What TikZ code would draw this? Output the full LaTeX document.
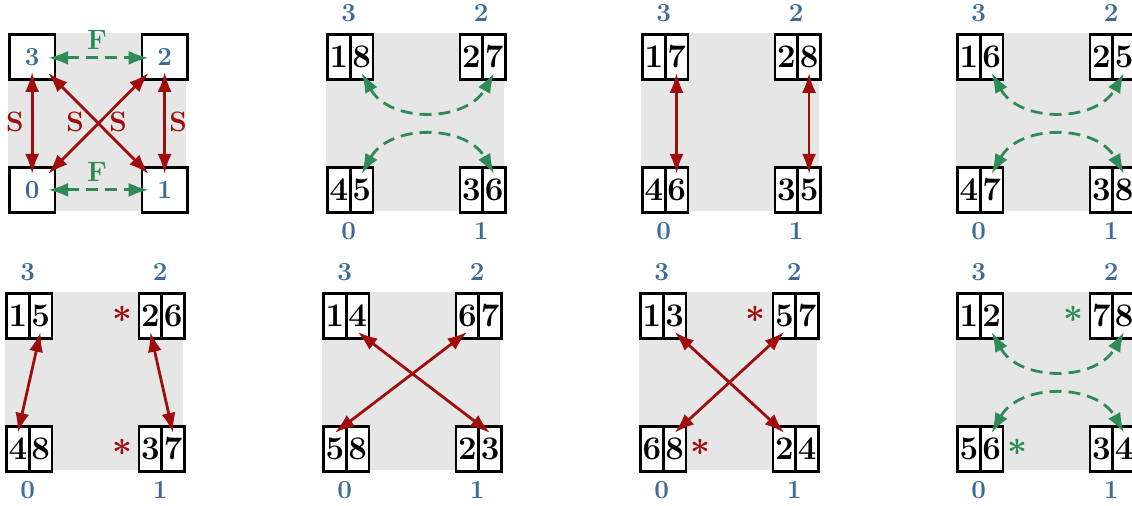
\documentclass[tikz,border=0pt]{standalone}
\usetikzlibrary{arrows.meta,calc}
\definecolor{sred}{HTML}{A00D0D}
\definecolor{sgreen}{HTML}{2E8B57}
\definecolor{sblue}{HTML}{3D6A96}
\definecolor{sgray}{HTML}{E6E6E6}
\tikzset{
  cell/.style={draw=black, line width=1.4pt, fill=white, minimum width=11.4pt,
    minimum height=22.5pt, inner sep=0pt, anchor=north west,
    font=\fontsize{16.5}{16.5}\selectfont\bfseries},
  bigbox/.style={draw=black, line width=1.4pt, fill=white, minimum width=22.75pt,
    minimum height=22.5pt, inner sep=0pt, anchor=north west, text=sblue,
    font=\fontsize{13}{14}\selectfont\bfseries},
  lab/.style={text=sblue, inner sep=0pt, font=\fontsize{13}{14}\selectfont\bfseries},
  slab/.style={text=sred, inner sep=0pt, font=\fontsize{14}{15}\selectfont\bfseries},
  flab/.style={text=sgreen, inner sep=0pt, font=\fontsize{14}{15}\selectfont\bfseries},
  rstar/.style={text=sred, inner sep=0pt, font=\fontsize{16}{16}\selectfont\boldmath},
  gstar/.style={text=sgreen, inner sep=0pt, font=\fontsize{16}{16}\selectfont\boldmath},
  tip/.tip={Latex[length=10pt,width=7pt]},
  sarr/.style={draw=sred, line width=1.4pt, tip-tip},
  farr/.style={draw=sgreen, line width=1.4pt, dash pattern=on 6pt off 3.5pt, tip-tip},
}
\newcommand\pair[5]{%
  \node[cell] (#1l) at (#2,#3) {#4};
  \node[cell] (#1r) at (#2+22.75,#3) {#5};}
\newcommand\panel[3]{% id, X, Y
  \fill[sgray] (#2,#3) rectangle (#2+178,#3+178);
  \node[lab] (#1t3) at (#2+22.75,#3-20) {3};
  \node[lab] (#1t2) at (#2+155.25,#3-20) {2};
  \node[lab] (#1t0) at (#2+22.75,#3+198) {0};
  \node[lab] (#1t1) at (#2+155.25,#3+198) {1};}
\begin{document}
\begin{tikzpicture}[x=0.5pt,y=-0.5pt]
\useasboundingbox (0,0) rectangle (1132,506);
\clip (0,0) rectangle (1132,506);
% ---------- panel 1 ----------
\fill[sgray] (8,33) rectangle (186,211);
\node[bigbox] (b3) at (8,33) {3};
\node[bigbox] (b2) at (140.5,33) {2};
\node[bigbox] (b0) at (8,166) {0};
\node[bigbox] (b1) at (140.5,166) {1};
\draw[sarr] ($(b3.center)+(0,15)$) -- ($(b0.center)+(0,-16)$);
\draw[sarr] ($(b2.center)+(0,15)$) -- ($(b1.center)+(0,-16)$);
\draw[sarr] ($(b3.center)+(16,16)$) -- ($(b1.center)+(-16,-16)$);
\draw[sarr] ($(b2.center)+(-16,16)$) -- ($(b0.center)+(16,-16)$);
\draw[farr] ($(b3.center)+(16,1)$) -- ($(b2.center)+(-16,1)$);
\draw[farr] ($(b0.center)+(16,0)$) -- ($(b1.center)+(-16,0)$);
\node[flab] (f1) at (97,40) {F};
\node[flab] (f2) at (97,172) {F};
\node[slab] (s1) at (15,122) {S};
\node[slab] (s2) at (75,122) {S};
\node[slab] (s3) at (118,122) {S};
\node[slab] (s4) at (178,122) {S};
% ---------- panel 2 ----------
\panel{p2}{326}{33}
\pair{p2n3}{326}{33}{1}{8}
\pair{p2n2}{458.5}{33}{2}{7}
\pair{p2n0}{326}{166}{4}{5}
\pair{p2n1}{458.5}{166}{3}{6}
\draw[farr] ([yshift=-8pt]p2n3r.center) .. controls +(28,50) and +(-28,50) .. ([yshift=-8pt]p2n2r.center);
\draw[farr] ([yshift=8pt]p2n0r.center) .. controls +(28,-50) and +(-28,-50) .. ([yshift=8pt]p2n1r.center);
% ---------- panel 3 ----------
\panel{p3}{641}{33}
\pair{p3n3}{641}{33}{1}{7}
\pair{p3n2}{773.5}{33}{2}{8}
\pair{p3n0}{641}{166}{4}{6}
\pair{p3n1}{773.5}{166}{3}{5}
\draw[sarr] ([yshift=-8pt]p3n3r.center) -- ([yshift=8pt]p3n0r.center);
\draw[sarr] ([yshift=-8pt]p3n2r.center) -- ([yshift=8pt]p3n1r.center);
% ---------- panel 4 ----------
\panel{p4}{956}{33}
\pair{p4n3}{956}{33}{1}{6}
\pair{p4n2}{1088.5}{33}{2}{5}
\pair{p4n0}{956}{166}{4}{7}
\pair{p4n1}{1088.5}{166}{3}{8}
\draw[farr] ([yshift=-8pt]p4n3r.center) .. controls +(28,50) and +(-28,50) .. ([yshift=-8pt]p4n2r.center);
\draw[farr] ([yshift=8pt]p4n0r.center) .. controls +(28,-50) and +(-28,-50) .. ([yshift=8pt]p4n1r.center);
% ---------- panel 5 ----------
\panel{p5}{5}{292}
\pair{p5n3}{5}{292}{1}{5}
\pair{p5n2}{137.5}{292}{2}{6}
\pair{p5n0}{5}{425}{4}{8}
\pair{p5n1}{137.5}{425}{3}{7}
\draw[sarr] ([yshift=-8pt]p5n3r.center) -- ([yshift=8pt]p5n0l.center);
\draw[sarr] ([yshift=-8pt]p5n2l.center) -- ([yshift=8pt]p5n1r.center);
\node[rstar] (st1) at (122,314) {$\ast$};
\node[rstar] (st2) at (122,447) {$\ast$};
% ---------- panel 6 ----------
\panel{p6}{322}{292}
\pair{p6n3}{322}{292}{1}{4}
\pair{p6n2}{454.5}{292}{6}{7}
\pair{p6n0}{322}{425}{5}{8}
\pair{p6n1}{454.5}{425}{2}{3}
\draw[sarr] ([yshift=-8pt]p6n3r.center) -- ([yshift=8pt]p6n1r.center);
\draw[sarr] ([yshift=-8pt]p6n2l.center) -- ([yshift=8pt]p6n0l.center);
% ---------- panel 7 ----------
\panel{p7}{639}{292}
\pair{p7n3}{639}{292}{1}{3}
\pair{p7n2}{771.5}{292}{5}{7}
\pair{p7n0}{639}{425}{6}{8}
\pair{p7n1}{771.5}{425}{2}{4}
\draw[sarr] ([yshift=-8pt]p7n3r.center) -- ([yshift=8pt]p7n1l.center);
\draw[sarr] ([yshift=-8pt]p7n2l.center) -- ([yshift=8pt]p7n0r.center);
\node[rstar] (st3) at (755,314) {$\ast$};
\node[rstar] (st4) at (700,447) {$\ast$};
% ---------- panel 8 ----------
\panel{p8}{956}{292}
\pair{p8n3}{956}{292}{1}{2}
\pair{p8n2}{1088.5}{292}{7}{8}
\pair{p8n0}{956}{425}{5}{6}
\pair{p8n1}{1088.5}{425}{3}{4}
\draw[farr] ([yshift=-8pt]p8n3r.center) .. controls +(28,50) and +(-28,50) .. ([yshift=-8pt]p8n2r.center);
\draw[farr] ([yshift=8pt]p8n0r.center) .. controls +(28,-50) and +(-28,-50) .. ([yshift=8pt]p8n1r.center);
\node[gstar] (st5) at (1073,314) {$\ast$};
\node[gstar] (st6) at (1017,447) {$\ast$};
\end{tikzpicture}
\end{document}
